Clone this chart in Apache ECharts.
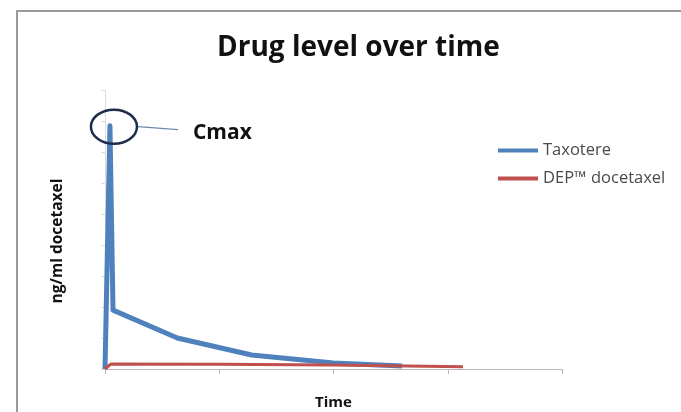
<!DOCTYPE html>
<html>
<head>
<meta charset="utf-8">
<script src="https://cdn.jsdelivr.net/npm/echarts@6/dist/echarts.min.js"></script>
<style>html,body{margin:0;padding:0;background:#fff}#c{width:681px;height:412px}</style>
</head>
<body>
<div id="c"></div>
<script>
// Time (x) values and drug levels (ng/ml, arbitrary units)
const taxotereTime = [0, 0.26, 0.42, 3.8, 7.7, 12.0, 15.6];
const taxotereLevel = [0, 7.85, 1.9, 1.0, 0.45, 0.19, 0.1];
const depTime = [0, 0.3, 6, 11.9, 18.8];
const depLevel = [0, 0.16, 0.15, 0.13, 0.07];
const seriesNames = ['Taxotere', 'DEP™ docetaxel'];
const titleText = 'Drug level over time';
const yName = 'ng/ml docetaxel';
const xName = 'Time';
const annotationText = 'Cmax';

const pair = (xs, ys) => xs.map((x, i) => [x, ys[i]]);

const chart = echarts.init(document.getElementById('c'), null, {renderer: 'canvas'});
const font = '"Open Sans", "Liberation Sans", sans-serif';

chart.setOption({
  animation: false,
  backgroundColor: '#fff',
  title: {
    text: titleText,
    left: 212, top: 29,
    textStyle: {fontFamily: font, fontWeight: 'bold', fontSize: 28, color: '#111'}
  },
  legend: {
    orient: 'vertical', left: 493, top: 137, itemGap: 11,
    icon: 'rect', itemWidth: 40, itemHeight: 4,
    textStyle: {fontFamily: font, fontSize: 16.5, color: '#4a4a4a'},
    data: seriesNames
  },
  grid: {left: 105, right: 119, top: 90, bottom: 43, outerBoundsMode: 'none', containLabel: false},
  xAxis: {
    type: 'value', min: 0, max: 24, interval: 6,
    name: xName, nameLocation: 'middle', nameGap: 26,
    nameTextStyle: {fontFamily: font, fontWeight: 'bold', fontSize: 15, color: '#111'},
    axisLine: {lineStyle: {color: '#b8b8b8', width: 1}},
    axisTick: {show: true, length: 5, lineStyle: {color: '#b8b8b8'}},
    axisLabel: {show: false},
    splitLine: {show: false}
  },
  yAxis: {
    type: 'value', min: 0, max: 9, interval: 1,
    name: yName, nameLocation: 'middle', nameGap: 39,
    nameTextStyle: {fontFamily: font, fontWeight: 'bold', fontSize: 15.5, color: '#111', padding: [0, 23, 0, 0]},
    axisLine: {show: true, lineStyle: {color: '#dcdcdc', width: 1}},
    axisTick: {show: true, length: 4, lineStyle: {color: '#dcdcdc'}},
    axisLabel: {show: false},
    splitLine: {show: false}
  },
  series: [
    {
      name: seriesNames[0], type: 'line', showSymbol: false, symbol: 'none',
      data: pair(taxotereTime, taxotereLevel),
      lineStyle: {color: '#4f81bd', width: 5, join: 'round'},
      itemStyle: {color: '#4f81bd'}, z: 3
    },
    {
      name: seriesNames[1], type: 'line', showSymbol: false, symbol: 'none',
      data: pair(depTime, depLevel),
      lineStyle: {color: '#c0504d', width: 3},
      itemStyle: {color: '#c0504d'}, z: 4
    }
  ]
});

// Annotation around the peak, positioned via the chart's own scales
const peakIdx = taxotereLevel.indexOf(Math.max(...taxotereLevel));
const p = chart.convertToPixel({gridIndex: 0}, [taxotereTime[peakIdx], taxotereLevel[peakIdx]]);
const cx = p[0] + 4, cy = p[1] + 1;
chart.setOption({
  graphic: [
    {type: 'line', shape: {x1: 16, y1: 11, x2: 681, y2: 11}, style: {stroke: '#9a9a9a', lineWidth: 2}},
    {type: 'line', shape: {x1: 17, y1: 10, x2: 17, y2: 412}, style: {stroke: '#9a9a9a', lineWidth: 2}},
    {type: 'ellipse', shape: {cx: cx, cy: cy, rx: 23, ry: 17},
     style: {fill: null, stroke: '#1f2d4d', lineWidth: 2.5}, z: 10},
    {type: 'line', shape: {x1: cx + 24, y1: cy, x2: cx + 64, y2: cy + 3},
     style: {stroke: '#6d8bb0', lineWidth: 1.2}, z: 10},
    {type: 'text', x: cx + 79, y: cy + 6,
     style: {text: annotationText, fontFamily: font, fontWeight: 'bold', fontSize: 21, fill: '#111', verticalAlign: 'middle'}, z: 10}
  ]
});
</script>
</body>
</html>
